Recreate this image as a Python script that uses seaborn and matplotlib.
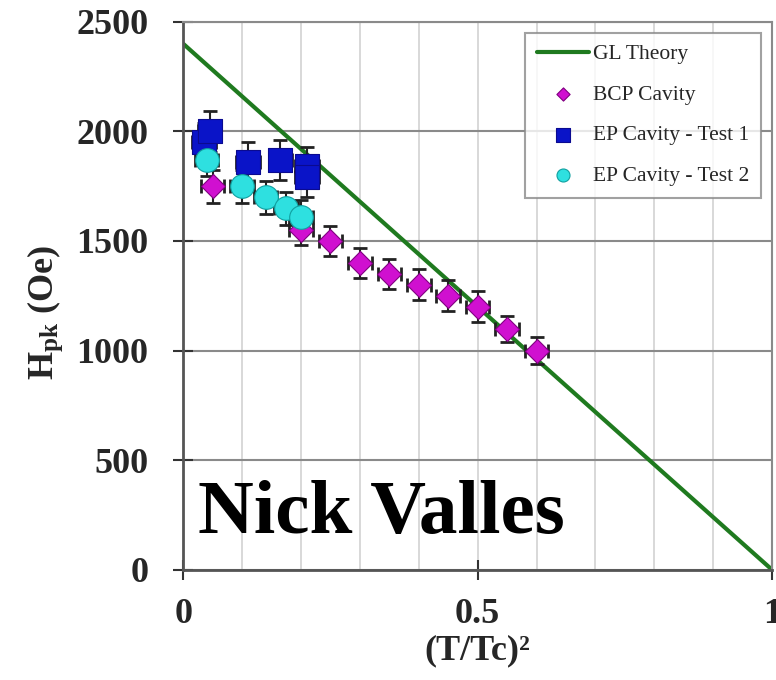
import numpy as np
import pandas as pd
import matplotlib
matplotlib.use('Agg')
import matplotlib.pyplot as plt
from matplotlib.ticker import MultipleLocator
import seaborn as sns

# GL theory line end points
gl_x = [0.0, 1.0]
gl_y = [2400, 0]

# BCP cavity
bcp_x = [0.05, 0.20, 0.25, 0.30, 0.35, 0.40, 0.45, 0.50, 0.55, 0.60]
bcp_y = [1750, 1550, 1500, 1400, 1350, 1300, 1250, 1200, 1100, 1000]
bcp_yerr = [75, 70, 70, 70, 70, 70, 70, 70, 60, 60]

# EP cavity - test 1
ep1_x = [0.035, 0.045, 0.11, 0.165, 0.21, 0.21]
ep1_y = [1950, 2000, 1860, 1870, 1840, 1790]
ep1_yerr = [90, 95, 90, 90, 90, 90]

# EP cavity - test 2
ep2_x = [0.04, 0.10, 0.14, 0.175, 0.20]
ep2_y = [1870, 1750, 1700, 1650, 1610]
ep2_yerr = [75, 75, 75, 75, 75]

xerr = 0.02

sns.set_style('white')
plt.rcParams['font.family'] = ['Liberation Serif', 'DejaVu Serif']
plt.rcParams['mathtext.fontset'] = 'custom'
plt.rcParams['mathtext.rm'] = 'Liberation Serif:bold'
plt.rcParams['mathtext.it'] = 'Liberation Serif:bold'
plt.rcParams['mathtext.bf'] = 'Liberation Serif:bold'

fig = plt.figure(figsize=(7.76, 6.8), dpi=100)
ax = fig.add_axes([0.236, 0.162, 0.759, 0.806])

#grid lines
ax.xaxis.set_minor_locator(MultipleLocator(0.1))
ax.grid(which='minor', axis='x', color='#d2d2d2', linewidth=1.2)
ax.grid(which='major', axis='x', color='#d2d2d2', linewidth=1.2)
ax.grid(which='major', axis='y', color='#8a8a8a', linewidth=1.5)
ax.set_axisbelow(True)

#theory line
gl = pd.DataFrame({'x': gl_x, 'y': gl_y})
sns.lineplot(data=gl, x='x', y='y', color='#1f7a1f', linewidth=3, ax=ax, label='GL Theory', zorder=2)

#error bars first so markers sit on top
ax.errorbar(bcp_x, bcp_y, yerr=bcp_yerr, xerr=xerr, fmt='none', ecolor='#222222',
            elinewidth=1.5, capsize=5, capthick=2, zorder=3)
ax.errorbar(ep1_x, ep1_y, yerr=ep1_yerr, xerr=xerr, fmt='none', ecolor='#222222',
            elinewidth=1.5, capsize=5, capthick=2, zorder=3)
ax.errorbar(ep2_x, ep2_y, yerr=ep2_yerr, xerr=xerr, fmt='none', ecolor='#222222',
            elinewidth=1.5, capsize=5, capthick=2, zorder=3)

sns.scatterplot(x=bcp_x, y=bcp_y, marker='D', s=150, color='#d010d0', edgecolor='#800080',
                linewidth=0.8, ax=ax, label='BCP Cavity', zorder=4)
sns.scatterplot(x=ep1_x, y=ep1_y, marker='s', s=290, color='#0a14c8', edgecolor='#0a0a90',
                linewidth=0.8, ax=ax, label='EP Cavity - Test 1', zorder=5)
sns.scatterplot(x=ep2_x, y=ep2_y, marker='o', s=290, color='#2ee0e0', edgecolor='#10a0a0',
                linewidth=0.8, ax=ax, label='EP Cavity - Test 2', zorder=6)

ax.set_xlim(0, 1)
ax.set_ylim(0, 2500)
ax.set_xticks([0, 0.5, 1])
ax.set_xticklabels(['0', '0.5', '1'])
ax.set_yticks([0, 500, 1000, 1500, 2000, 2500])
ax.tick_params(axis='both', which='major', labelsize=26, direction='inout', length=14,
               width=1.5, color='#333333', left=True, bottom=True)
ax.tick_params(axis='x', which='major', pad=13)
ax.tick_params(axis='y', which='major', pad=18)
ax.tick_params(axis='x', which='minor', length=0)
for lab in ax.get_xticklabels() + ax.get_yticklabels():
    lab.set_fontweight('bold')

for side in ['left', 'bottom']:
    ax.spines[side].set_color('#555555')
    ax.spines[side].set_linewidth(2)
for side in ['top', 'right']:
    ax.spines[side].set_color('#8a8a8a')
    ax.spines[side].set_linewidth(1.5)

ax.set_xlabel('(T/Tc)²', fontsize=26, fontweight='bold', labelpad=3)
ax.set_ylabel(r'H$_{\mathrm{pk}}$ (Oe)', fontsize=26, fontweight='bold')
ax.yaxis.set_label_coords(-0.2, 0.47)

#watermark text
ax.text(0.025, 0.0675, 'Nick Valles', transform=ax.transAxes, fontsize=55.5,
        fontweight='bold', color='black', ha='left', va='baseline', zorder=7)

leg = ax.legend(loc='upper right', bbox_to_anchor=(1.0, 1.0), fontsize=15.5,
                frameon=True, fancybox=False, edgecolor='#8a8a8a', labelspacing=0.95,
                borderpad=0.55, borderaxespad=0.5, handlelength=2.4, handletextpad=0.2,
                markerscale=0.55)
leg.get_frame().set_linewidth(1.5)

plt.savefig('out.png', dpi=100)
